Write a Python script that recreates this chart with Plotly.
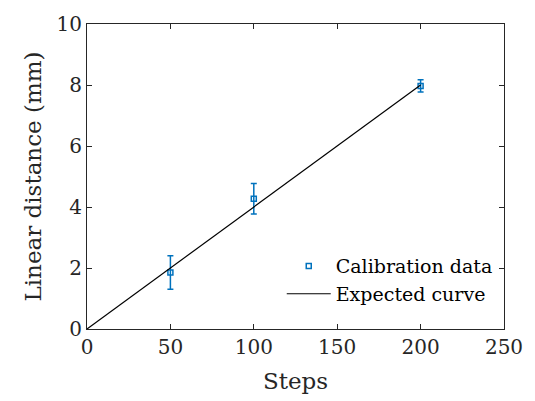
import plotly.graph_objects as go

steps = [50, 100, 200]
distance = [1.85, 4.27, 7.97]
distance_err = [0.55, 0.5, 0.2]
curve_x = [0, 200]
curve_y = [0, 8]

blue = "#0072BD"
font = "DejaVu Serif"

fig = go.Figure()
fig.add_trace(go.Scatter(
    x=steps, y=distance, mode="markers", name="Calibration data",
    marker=dict(symbol="square-open", size=5, color=blue, line=dict(width=1.5)),
    error_y=dict(type="data", array=distance_err, color=blue, thickness=1.5, width=3),
))
fig.add_trace(go.Scatter(
    x=curve_x, y=curve_y, mode="lines", name="Expected curve",
    line=dict(color="black", width=1.2),
))

axis_common = dict(
    showgrid=False, zeroline=False, showline=True, linecolor="#262626", linewidth=1,
    mirror="ticks", ticks="inside", ticklen=5, tickcolor="#262626",
    tickfont=dict(family=font, size=20, color="#262626"),
)
fig.update_layout(
    width=535, height=401,
    margin=dict(l=87, r=20, t=17, b=71),
    paper_bgcolor="white", plot_bgcolor="white",
    font=dict(family=font, color="#262626"),
    xaxis=dict(range=[0, 250], tickvals=[0, 50, 100, 150, 200, 250],
               title=dict(text="Steps", font=dict(family=font, size=23), standoff=14),
               **axis_common),
    yaxis=dict(range=[0, 10], tickvals=[0, 2, 4, 6, 8, 10],
               title=dict(text="Linear distance (mm)", font=dict(family=font, size=23), standoff=8),
               **axis_common),
    showlegend=True,
    legend=dict(x=0.985, y=0.16, xanchor="right", yanchor="middle",
                bgcolor="rgba(255,255,255,0)", font=dict(family=font, size=19, color="black"),
                itemwidth=44, tracegroupgap=0),
)
fig.write_html("out.html")
